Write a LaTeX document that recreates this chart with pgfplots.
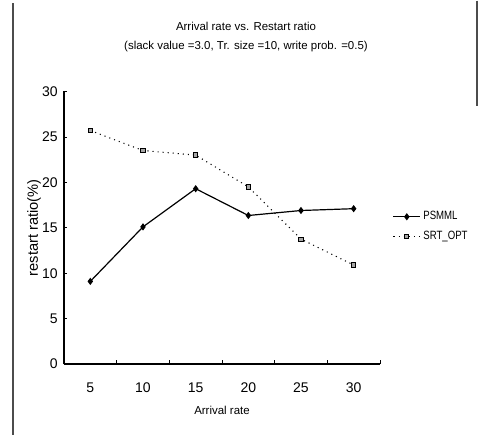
\documentclass[border=0pt]{standalone}
\usepackage{pgfplots}
\pgfplotsset{compat=1.18}
\usepackage{fontspec}
\setmainfont{Liberation Sans}
\newfontfamily\narrowfont[FakeStretch=0.8]{Liberation Sans}
\begin{document}
\begin{tikzpicture}
% canvas 480 x 434 px, 1px = 0.75pt, y up: ypt = (434 - ypx)*0.75
\path (0pt,0pt) rectangle (360pt,325.5pt);
% scan border remnants
\draw[black!70, line width=0.8pt] (9.75pt,0pt) -- (9.75pt,324pt);
\draw[black!70, line width=0.8pt] (357.75pt,325.5pt) -- (357.75pt,246.75pt);
% titles
\node[font=\fontsize{8.6}{10}\selectfont, inner sep=0pt] at (184.5pt,306pt) {Arrival rate vs. Restart ratio};
\node[font=\fontsize{8.6}{10}\selectfont, inner sep=0pt] at (184.5pt,291pt) {(slack value =3.0, Tr. size =10, write prob. =0.5)};
\begin{axis}[
  at={(48pt,52.875pt)}, anchor=south west,
  scale only axis, width=237pt, height=204.4pt,
  xmin=-0.5, xmax=5.5, ymin=0, ymax=30,
  axis x line=bottom, axis y line=left,
  axis line style={-, line width=0.8pt},
  xtick={0,1,2,3,4,5},
  xticklabels={5,10,15,20,25,30},
  minor xtick={0.5,1.5,2.5,3.5,4.5,5.5},
  major x tick style={draw=none},
  minor tick length=3pt,
  ytick={0,5,10,15,20,25,30},
  major tick length=2pt,
  tick align=inside,
  tick style={black, line width=0.6pt},
  /pgf/number format/assume math mode=true,
  tick label style={font=\fontsize{10.5}{12}\selectfont},
  xticklabel style={anchor=center, yshift=-18pt},
  yticklabel style={anchor=east, inner sep=0pt, xshift=-4.5pt},
  xlabel={Arrival rate},
  xlabel style={font=\fontsize{8.6}{10}\selectfont, at={(axis description cs:0.5,-0.171)}, anchor=center, inner sep=0pt},
  ylabel={restart ratio(\%)},
  ylabel style={font=\fontsize{11}{12}\selectfont, at={(axis description cs:-0.095,0.5)}, anchor=center, inner sep=0pt},
  clip=false,
  legend style={at={(rel axis cs:1.04,0.57)}, anchor=north west, draw=none, fill=none,
    font=\narrowfont\fontsize{9}{10}\selectfont, row sep=3pt, inner sep=0pt,
    /tikz/every even column/.append style={column sep=4pt}},
  legend cell align=left,
  legend image code/.code={%
    \draw[#1] (0pt,0pt) -- (20pt,0pt);
    \draw[#1, solid] plot coordinates {(10pt,0pt)};},
]
\addplot[black, line width=0.9pt, mark=diamond*, mark size=2pt, mark options={solid}]
  coordinates {(0,9.1) (1,15.1) (2,19.3) (3,16.35) (4,16.9) (5,17.1)};
\addlegendentry{PSMML}
\addplot[black, line width=0.8pt, dash pattern=on 0.8pt off 3pt, mark=square*, mark size=1.6pt,
  mark options={solid, fill=black!35, line width=0.7pt}]
  coordinates {(0,25.7) (1,23.5) (2,23.0) (3,19.5) (4,13.75) (5,10.9)};
\addlegendentry{SRT\_OPT}
\end{axis}
\end{tikzpicture}
\end{document}
